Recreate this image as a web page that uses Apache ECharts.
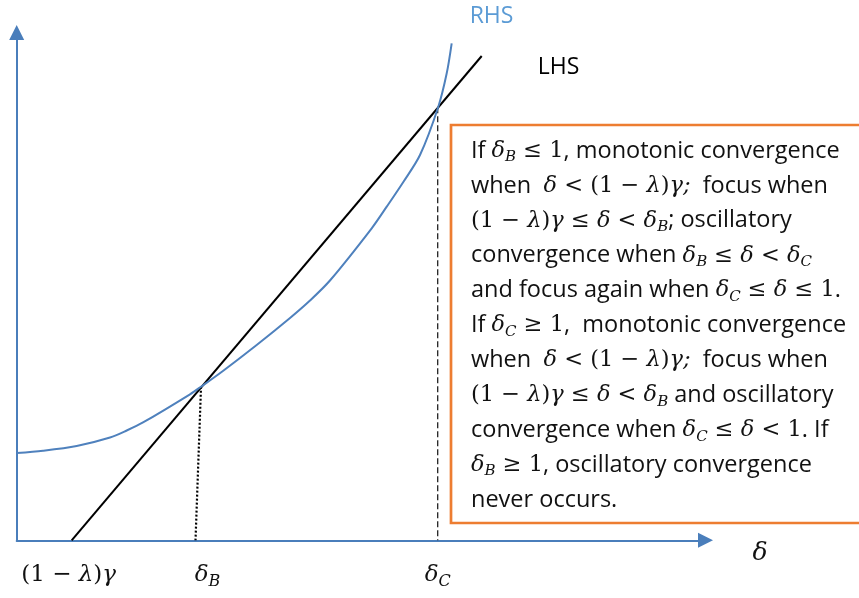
<!DOCTYPE html>
<html>
<head>
<meta charset="utf-8">
<script src="https://cdn.jsdelivr.net/npm/echarts@6/dist/echarts.min.js"></script>
<style>
  html, body { margin: 0; padding: 0; background: #fff; }
  #chart { width: 859px; height: 598px; }
</style>
</head>
<body>
<div id="chart"></div>
<script>
// RHS curve, sampled along its length (x = δ, y = value)
const rhsX = [0, 3.82, 8.71, 13.55, 15.97, 18.34, 25.16, 26.76, 29.99, 34.84, 39.68, 42.58, 45.48, 51.54, 53.72, 56.13, 58.55, 61.21, 62.43, 63.15];
const rhsY = [17.19, 17.64, 18.57, 20.24, 21.62, 23.2, 28.75, 30.25, 33.4, 38.46, 43.78, 47.22, 51.16, 61.44, 65.7, 70.56, 75.87, 85.39, 91.96, 97.87];

// LHS straight line, end points
const lhsX = [7.98, 67.51];
const lhsY = [0, 95.37];

// crossing points: δ_B (dotted drop, slightly leaning) and δ_C (dashed drop)
const deltaBX = [26.76, 25.96];
const deltaBY = [30.25, 0];
const deltaCX = [61.12, 61.12];
const deltaCY = [85.3, 0];

// x-axis tick marks and their labels
const tickValues = [7.98, 25.96, 61.12];
const tickLabels = ['$(1 − λ)γ$', '$δ_B$', '$δ_C$'];

// annotation box text; $...$ marks math, _X marks a subscript
const boxLines = [
  'If $δ_B ≤ 1$, monotonic convergence',
  'when  $δ < (1 − λ)γ;$  focus when',
  '$(1 − λ)γ ≤ δ < δ_B$; oscillatory',
  'convergence when $δ_B ≤ δ < δ_C$',
  'and focus again when $δ_C ≤ δ ≤ 1$.',
  'If $δ_C ≥ 1$,  monotonic convergence',
  'when  $δ < (1 − λ)γ;$  focus when',
  '$(1 − λ)γ ≤ δ < δ_B$ and oscillatory',
  'convergence when $δ_C ≤ δ < 1$. If',
  '$δ_B ≥ 1$, oscillatory convergence',
  'never occurs.'
];

const BODY_FONT = 'Open Sans';
const MATH_FONT = 'DejaVu Serif';

// turn the $...$ markup into rich-text tokens:
// t = body, m = math italic, n = math upright, r = spaced operator, s = subscript
function toRich(str) {
  let out = '';
  str.split('$').forEach(function (seg, i) {
    if (!seg) return;
    if (i % 2 === 0) { out += '{t|' + seg + '}'; return; }
    let buf = '', kind = null;
    const flush = function () { if (buf) out += '{' + kind + '|' + buf + '}'; buf = ''; };
    for (let j = 0; j < seg.length; j++) {
      const c = seg[j];
      if (c === ' ') continue;
      if (c === '_') {
        flush(); kind = 's'; buf = seg[++j]; flush(); kind = null; continue;
      }
      if ('≤≥<−'.indexOf(c) >= 0) {
        flush(); kind = 'r'; buf = ' ' + c + ' '; flush(); kind = null; continue;
      }
      const k = /[A-Za-z\u03b1-\u03c9;]/.test(c) ? 'm' : 'n';
      if (k !== kind) { flush(); kind = k; }
      buf += c;
    }
    flush();
  });
  return out;
}

function pairs(xs, ys) { return xs.map(function (x, i) { return [x, ys[i]]; }); }

const INK = '#111';
const boxRich = {
  t: { fill: INK, fontFamily: BODY_FONT, fontSize: 23.5, lineHeight: 28 },
  m: { fill: INK, fontFamily: MATH_FONT, fontStyle: 'italic', fontSize: 22.5, lineHeight: 28 },
  n: { fill: INK, fontFamily: MATH_FONT, fontSize: 22.5, lineHeight: 28 },
  r: { fill: INK, fontFamily: MATH_FONT, fontSize: 22.5, lineHeight: 28 },
  s: { fill: INK, fontFamily: MATH_FONT, fontStyle: 'italic', fontSize: 15, lineHeight: 15, verticalAlign: 'bottom' }
};

const LINE_TOP0 = 137, LINE_STEP = 34.9;
const textElements = boxLines.map(function (line, i) {
  return {
    type: 'text',
    x: 471,
    y: LINE_TOP0 + i * LINE_STEP,
    z: 10,
    style: { text: toRich(line), rich: boxRich, align: 'left', verticalAlign: 'top' }
  };
});

const chart = echarts.init(document.getElementById('chart'), null, { renderer: 'canvas' });

const AXIS_BLUE = '#4A7EBB';

chart.setOption({
  animation: false,
  backgroundColor: '#fff',
  grid: { left: 16.7, right: 153.5, top: 32.5, bottom: 57.7, containLabel: false },
  xAxis: {
    type: 'value', min: 0, max: 100,
    name: '{d|δ}', nameLocation: 'end', nameGap: 47,
    nameTextStyle: {
      align: 'left',
      rich: {
        d: { fontFamily: MATH_FONT, fontStyle: 'italic', fontSize: 25, color: INK,
          lineHeight: 26, padding: [26, 0, 0, 0] }
      }
    },
    axisLine: { show: true, onZero: false, symbol: ['none', 'triangle'], symbolSize: [15, 15],
      lineStyle: { color: AXIS_BLUE, width: 2 } },
    axisTick: { show: false },
    splitLine: { show: false },
    axisLabel: {
      show: true, customValues: tickValues, margin: 20,
      formatter: function (v) {
        const i = tickValues.indexOf(v);
        if (i < 0) return '';
        if (i === 0) return toRich(tickLabels[i]) + '{gap2| }';
        if (i === 1) return '{gap| }' + toRich(tickLabels[i]);
        return toRich(tickLabels[i]);
      },
      rich: {
        gap: { width: 24, fontSize: 10 },
        gap2: { width: 6, fontSize: 10 },
        t: { fontFamily: BODY_FONT, fontSize: 23, color: INK, lineHeight: 30 },
        m: { fontFamily: MATH_FONT, fontStyle: 'italic', fontSize: 23, color: INK, lineHeight: 30 },
        n: { fontFamily: MATH_FONT, fontSize: 23, color: INK, lineHeight: 30 },
        r: { fontFamily: MATH_FONT, fontSize: 23, color: INK, lineHeight: 30 },
        s: { fontFamily: MATH_FONT, fontStyle: 'italic', fontSize: 16, color: INK, lineHeight: 16, verticalAlign: 'bottom' }
      }
    }
  },
  yAxis: {
    type: 'value', min: 0, max: 100,
    axisLine: { show: true, onZero: false, symbol: ['none', 'triangle'], symbolSize: [15, 15],
      lineStyle: { color: AXIS_BLUE, width: 2 } },
    axisTick: { show: false },
    axisLabel: { show: false },
    splitLine: { show: false }
  },
  series: [
    {
      name: 'RHS', type: 'line', data: pairs(rhsX, rhsY),
      smooth: 0.3, showSymbol: false,
      lineStyle: { color: '#4F81BD', width: 2 }, itemStyle: { color: '#4F81BD' },
      endLabel: { show: true, formatter: 'RHS', offset: [10, -27], color: '#5B9BD5',
        fontFamily: BODY_FONT, fontSize: 23 },
      z: 3
    },
    {
      name: 'LHS', type: 'line', data: pairs(lhsX, lhsY),
      showSymbol: false,
      lineStyle: { color: '#000', width: 2 }, itemStyle: { color: '#000' },
      endLabel: { show: true, formatter: 'LHS', offset: [48, 11], color: '#000',
        fontFamily: BODY_FONT, fontSize: 23 },
      z: 2
    },
    {
      type: 'line', data: pairs(deltaBX, deltaBY), showSymbol: false,
      lineStyle: { color: '#000', width: 2.2, type: [2, 2] }, z: 1
    },
    {
      type: 'line', data: pairs(deltaCX, deltaCY), showSymbol: false,
      lineStyle: { color: '#222', width: 1.3, type: [6, 3] }, z: 1
    }
  ],
  graphic: [
    {
      type: 'rect', z: 5,
      shape: { x: 451, y: 125, width: 430, height: 398 },
      style: { fill: '#fff', stroke: '#ED7D31', lineWidth: 2.7 }
    }
  ].concat(textElements)
});
</script>
</body>
</html>
